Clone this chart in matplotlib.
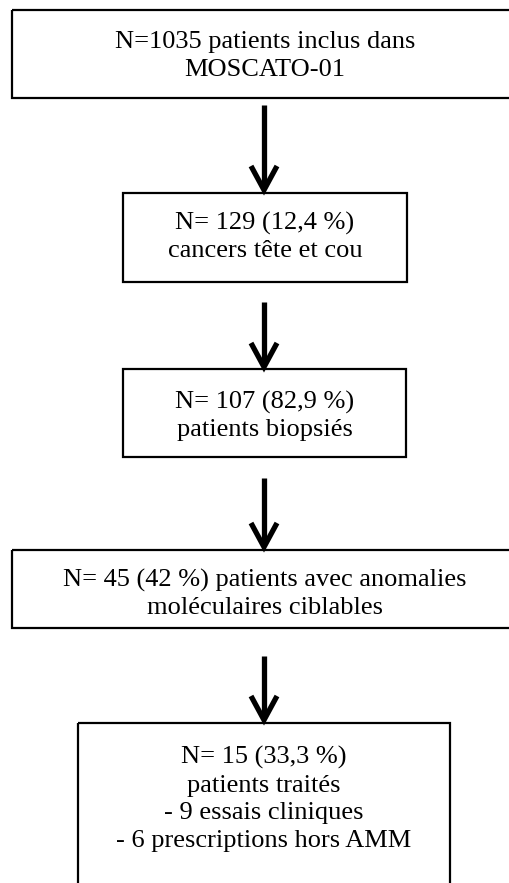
import matplotlib.pyplot as plt
from matplotlib.patches import Rectangle

plt.rcParams['font.family'] = ['Liberation Serif', 'DejaVu Serif']

# box texts, top to bottom
labels = [
    'N=1035 patients inclus dans\nMOSCATO-01',
    'N= 129 (12,4 %)\ncancers tête et cou',
    'N= 107 (82,9 %)\npatients biopsiés',
    'N= 45 (42 %) patients avec anomalies\nmoléculaires ciblables',
    'N= 15 (33,3 %)\npatients traités\n- 9 essais cliniques\n- 6 prescriptions hors AMM',
]

# layout in pixels: (left, top, right, bottom), image coordinates
boxes = [
    (12, 10, 518, 98),
    (123, 193, 407, 282),
    (123, 369, 406, 457),
    (12, 550, 518, 628),
    (78, 723, 450, 920),
]
text_y = [56, 237, 416, 594, 799]
arrows = [(105, 192), (302, 369), (478, 549), (656, 722)]
xc = 264

fig = plt.figure(figsize=(5.09, 8.83), dpi=100)
ax = fig.add_axes([0, 0, 1, 1])
ax.set_xlim(0, 509)
ax.set_ylim(883, 0)
ax.axis('off')

for (l, t, r, b), lab, ty in zip(boxes, labels, text_y):
    ax.add_patch(Rectangle((l, t), r - l, b - t, fill=False, ec='black', lw=1.6))
    ax.text((l + r) / 2, ty, lab, ha='center', va='center', fontsize=19,
            linespacing=1.33, color='black')

for y0, y1 in arrows:
    ax.plot([xc, xc], [y0, y1 - 4], color='black', lw=3.8, solid_capstyle='butt')
    ax.plot([xc - 13, xc, xc + 13], [y1 - 26, y1 - 2, y1 - 26], color='black',
            lw=3.8, solid_joinstyle='miter', solid_capstyle='butt')

fig.savefig('out.png', dpi=100)
